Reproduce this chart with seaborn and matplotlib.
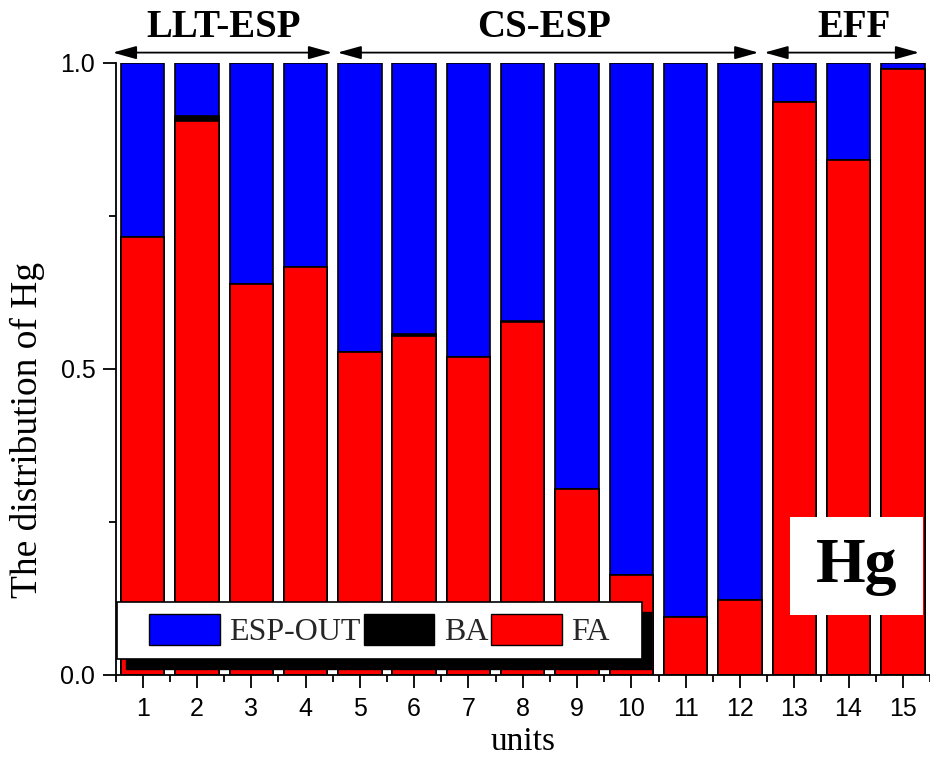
import matplotlib
matplotlib.use('Agg')
import matplotlib.pyplot as plt
import seaborn as sns
import pandas as pd
import numpy as np
from matplotlib.patches import Patch, Rectangle

# ---------------- data ----------------
units = [str(i) for i in range(1, 16)]
fa = [0.716, 0.905, 0.639, 0.666, 0.527, 0.554, 0.519, 0.576, 0.304, 0.163,
      0.095, 0.123, 0.936, 0.841, 0.990]
ba = [0.000, 0.008, 0.000, 0.000, 0.000, 0.004, 0.000, 0.003, 0.000, 0.000,
      0.000, 0.000, 0.000, 0.000, 0.000]
esp_out = [0.284, 0.087, 0.361, 0.334, 0.473, 0.442, 0.481, 0.421, 0.696, 0.837,
           0.905, 0.877, 0.064, 0.159, 0.010]
series_names = ['ESP-OUT', 'BA', 'FA']
groups = ['LLT-ESP', 'CS-ESP', 'EFF']
y_ticks = [0.0, 0.5, 1.0]
y_tick_labels = ['0.0', '0.5', '1.0']

SERIF = 'Liberation Serif'
SANS = 'Liberation Sans'

sns.set_theme(style='white')
plt.rcParams['font.family'] = [SANS, 'DejaVu Sans']

df = pd.DataFrame({'unit': units, 'FA': fa, 'BA': ba, 'ESP-OUT': esp_out})
df['top_ba'] = df['FA'] + df['BA']
df['top_all'] = df['top_ba'] + df['ESP-OUT']

fig = plt.figure(figsize=(9.3, 7.68), dpi=100)
ax = fig.add_axes([115.5 / 930, 93 / 768, (930 - 115.5) / 930, 612 / 768])

kw = dict(edgecolor='black', linewidth=1.2, saturation=1, width=0.8,
          errorbar=None, ax=ax, order=units)
sns.barplot(data=df, x='unit', y='top_all', color='#0000ff', **kw)
sns.barplot(data=df, x='unit', y='top_ba', color='#000000', **kw)
sns.barplot(data=df, x='unit', y='FA', color='#ff0000', **kw)

ax.set_xlim(-0.5, 14.33)
ax.set_ylim(0, 1.0)
ax.set_yticks(y_ticks)
ax.set_yticklabels(y_tick_labels)
ax.set_yticks([0.25, 0.75], minor=True)
ax.set_xticks(np.arange(-0.5, 15, 1.0), minor=True)
ax.tick_params(axis='both', which='major', direction='out', length=9.5, width=1.3,
               labelsize=18, color='black', labelcolor='black', bottom=True, left=True)
ax.tick_params(axis='x', which='major', pad=6)
ax.tick_params(axis='y', which='major', pad=5)
ax.tick_params(axis='both', which='minor', direction='out', length=5, width=1.3,
               color='black', bottom=True, left=True)
for lab in ax.get_xticklabels() + ax.get_yticklabels():
    lab.set_fontfamily(SANS)
for s in ['top', 'right']:
    ax.spines[s].set_visible(False)
for s in ['left', 'bottom']:
    ax.spines[s].set_color('black')
    ax.spines[s].set_linewidth(1.3)

ax.set_xlabel('units', fontsize=24, family=SERIF, color='black', labelpad=4)
ax.set_ylabel('The distribution of Hg', fontsize=27, family=SERIF, color='black')
ax.yaxis.set_label_coords(-0.086, 0.40)

# group labels with double arrows
arrow_spans = [(-0.55, 3.49), (3.59, 11.34), (11.45, 14.3)]
text_x = [1.5, 7.4, 13.1]
for name, (a0, a1), tx in zip(groups, arrow_spans, text_x):
    ax.annotate('', xy=(a1, 1.017), xytext=(a0, 1.017),
                xycoords=('data', 'axes fraction'), textcoords=('data', 'axes fraction'),
                arrowprops=dict(arrowstyle='<|-|>,head_length=0.9,head_width=0.25',
                                color='black', lw=1.3, mutation_scale=16,
                                shrinkA=0, shrinkB=0),
                annotation_clip=False)
    ax.text(tx, 1.058, name, transform=ax.get_xaxis_transform(), ha='center', va='center',
            fontsize=28, fontweight='bold', family=SERIF, color='black', clip_on=False)

# Hg box
ax.add_patch(Rectangle((0.828, 0.098), 0.163, 0.160, transform=ax.transAxes,
                       facecolor='white', edgecolor='none', zorder=6))
ax.text(0.910, 0.176, 'Hg', transform=ax.transAxes, ha='center', va='center',
        fontsize=46, fontweight='bold', family=SERIF, color='black', zorder=7)

# legend with frame and solid black shadow
fx0, fx1 = (117 - 115.5) / 814.5, (642 - 115.5) / 814.5
fy0, fy1 = (675 - 659) / 612, (675 - 602) / 612
sx, sy = 9 / 814.5, 10 / 612
ax.add_patch(Rectangle((fx0 + sx, fy0 - sy), fx1 - fx0, fy1 - fy0, transform=ax.transAxes,
                       facecolor='black', edgecolor='black', zorder=6))
ax.add_patch(Rectangle((fx0, fy0), fx1 - fx0, fy1 - fy0, transform=ax.transAxes,
                       facecolor='white', edgecolor='black', linewidth=1.2, zorder=6.5))
handles = [Patch(facecolor='#0000ff', edgecolor='black', linewidth=1),
           Patch(facecolor='#000000', edgecolor='black', linewidth=1),
           Patch(facecolor='#ff0000', edgecolor='black', linewidth=1)]
leg = ax.legend(handles, series_names, ncol=3, loc='center',
                bbox_to_anchor=((fx0 + fx1) / 2, (fy0 + fy1) / 2),
                frameon=False, prop={'family': SERIF, 'size': 23},
                handlelength=2.2, handleheight=1.15, handletextpad=0.3,
                columnspacing=0.1, borderpad=0, borderaxespad=0)
leg.set_zorder(7)

fig.savefig('out.png', dpi=100)
